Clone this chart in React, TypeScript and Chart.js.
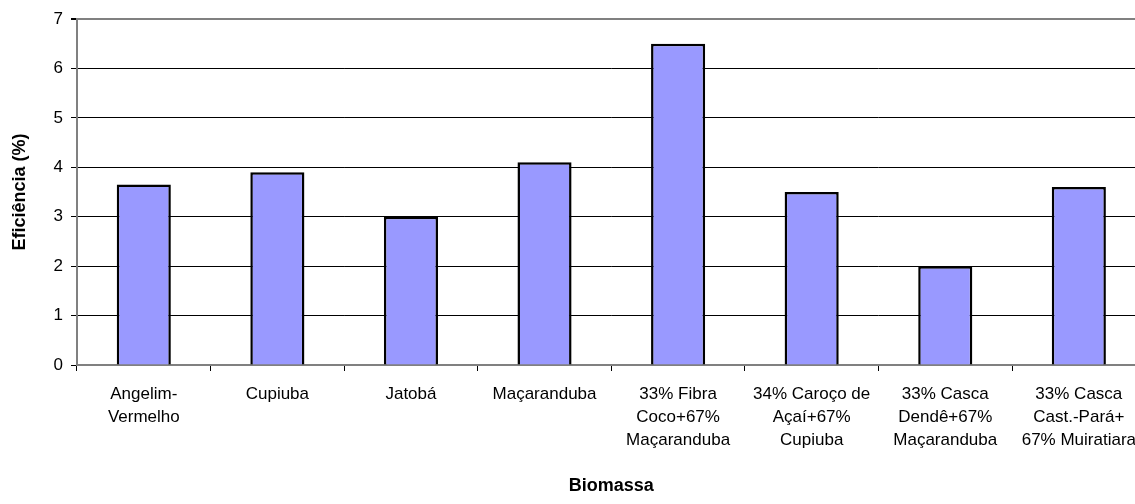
import React, { useEffect, useRef } from "react";
import { Chart, registerables } from "chart.js";

Chart.register(...registerables);

const categories: string[][] = [
  ["Angelim-", "Vermelho"],
  ["Cupiuba"],
  ["Jatobá"],
  ["Maçaranduba"],
  ["33% Fibra", "Coco+67%", "Maçaranduba"],
  ["34% Caroço de", "Açaí+67%", "Cupiuba"],
  ["33% Casca", "Dendê+67%", "Maçaranduba"],
  ["33% Casca", "Cast.-Pará+", "67% Muiratiara"],
];

const efficiency: number[] = [3.65, 3.9, 3.0, 4.1, 6.5, 3.5, 2.0, 3.6];

const yMin = 0;
const yMax = 7;
const yStep = 1;

const yTitle = "Eficiência (%)";
const xTitle = "Biomassa";

const FONT = "'Liberation Sans', Arial, sans-serif";

export default function App() {
  const ref = useRef<HTMLCanvasElement | null>(null);

  useEffect(() => {
    if (!ref.current) return;
    const chart = new Chart(ref.current, {
      type: "bar",
      data: {
        labels: categories,
        datasets: [
          {
            data: efficiency,
            backgroundColor: "#9999FF",
            borderColor: "#000000",
            borderWidth: 2.5,
            categoryPercentage: 1,
            barPercentage: 0.405,
          },
        ],
      },
      options: {
        animation: false,
        responsive: false,
        maintainAspectRatio: false,
        layout: { padding: { top: 19, right: 0, bottom: 0, left: 0 } },
        plugins: {
          legend: { display: false },
          tooltip: { enabled: false },
        },
        scales: {
          x: {
            offset: true,
            grid: {
              offset: true,
              drawOnChartArea: false,
              drawTicks: true,
              tickLength: 6,
              tickColor: "#000000",
            },
            border: { color: "#808080", width: 2 },
            ticks: {
              color: "#000000",
              font: { family: FONT, size: 17, lineHeight: 1.35 },
              padding: 12,
              maxRotation: 0,
              autoSkip: false,
            },
            title: {
              display: true,
              text: xTitle,
              color: "#000000",
              font: { family: FONT, size: 18, weight: "bold" },
              padding: { top: 0, bottom: 7 },
            },
            afterFit: (s: any) => {
              s.height = 139;
            },
          },
          y: {
            min: yMin,
            max: yMax,
            ticks: {
              stepSize: yStep,
              color: "#000000",
              font: { family: FONT, size: 17 },
              padding: 8,
            },
            grid: {
              color: (c: any) => (c.tick && c.tick.value === yMax ? "#808080" : "#000000"),
              lineWidth: (c: any) => (c.tick && c.tick.value === yMax ? 2 : 1),
              tickColor: "#000000",
              tickLength: 6,
            },
            border: { color: "#808080", width: 2 },
            title: {
              display: true,
              text: yTitle,
              color: "#000000",
              font: { family: FONT, size: 18, weight: "bold" },
              padding: { top: 9, bottom: 0 },
            },
            afterFit: (s: any) => {
              s.width = 77;
            },
          },
        },
      },
    });
    return () => chart.destroy();
  }, []);

  return (
    <div
      style={{
        position: "fixed",
        left: 0,
        top: 0,
        width: 1135,
        height: 504,
        overflow: "hidden",
        background: "#ffffff",
      }}
    >
      <canvas ref={ref} width={1148} height={504} style={{ display: "block" }} />
    </div>
  );
}
